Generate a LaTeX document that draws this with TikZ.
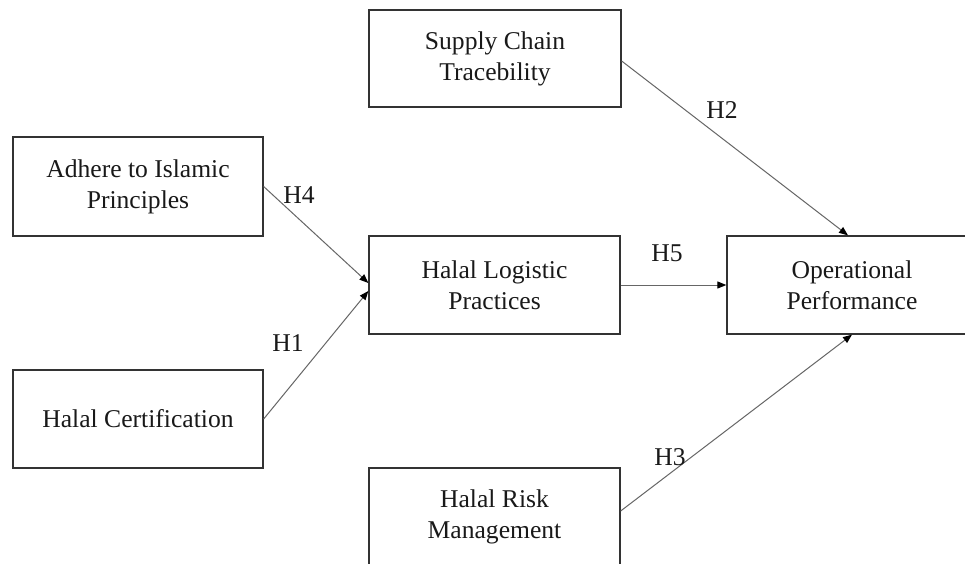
\documentclass[tikz,border=0pt]{standalone}
\usepackage{fontspec}
\setmainfont{Liberation Serif}
\usetikzlibrary{arrows.meta,calc}
\tikzset{
  varbox/.style={draw=black!80, line width=1.3pt, rectangle, inner sep=0pt,
    minimum width=251pt, minimum height=98pt, align=center,
    font=\fontsize{25.6}{31}\selectfont, text=black!90},
  hyp/.style={draw=black!60, line width=1pt,
    -{Triangle[length=9pt,width=7pt,color=black]}},
  hlabel/.style={font=\fontsize{25.6}{31}\selectfont, text=black!90, inner sep=0pt}
}
\begin{document}
\begin{tikzpicture}[x=1pt,y=-1pt]
\useasboundingbox (0,0) rectangle (965,563);
\clip (0,0) rectangle (965,563);
\fill[white] (0,0) rectangle (965,563);
\node[varbox, minimum width=252pt, minimum height=97pt] (sc) at (495,58.5) {Supply Chain\\Tracebility};
\node[varbox, minimum width=250pt, minimum height=99pt] (adh) at (138,186.5) {Adhere to Islamic\\Principles};
\node[varbox, minimum width=250pt] (cert) at (138,419) {Halal Certification};
\node[varbox] (hlp) at (494.5,285) {Halal Logistic\\Practices};
\node[varbox, minimum width=250pt] (op) at (852,285) {Operational\\Performance};
\node[varbox] (risk) at (494.5,517) {Halal Risk\\Management};
\coordinate (hlpA) at ($(hlp.west)+(0,-2)$);
\coordinate (hlpB) at ($(hlp.west)+(0,6)$);
\coordinate (opTop) at ($(op.north)+(-4,0)$);
\coordinate (scOut) at ($(sc.east)+(0,2.5)$);
\coordinate (riskOut) at ($(risk.east)+(0,-6)$);
\draw[hyp] (adh.east) -- (hlpA);
\draw[hyp] (cert.east) -- (hlpB);
\draw[hyp] (hlp.east) -- (op.west);
\draw[hyp] (scOut) -- (opTop);
\draw[hyp] (riskOut) -- (op.south);
\node[hlabel] (h4) at (299,195) {H4};
\node[hlabel] (h1) at (288,343) {H1};
\node[hlabel] (h2) at (722,110) {H2};
\node[hlabel] (h5) at (667,253) {H5};
\node[hlabel] (h3) at (670,457) {H3};
\end{tikzpicture}
\end{document}
